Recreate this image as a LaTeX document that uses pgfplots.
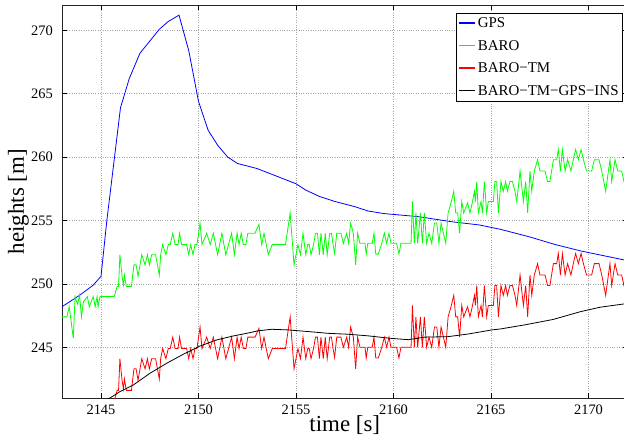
\documentclass[border=0pt]{standalone}
\usepackage{fontspec}
\setmainfont{Liberation Serif}
\usepackage{pgfplots}
\pgfplotsset{compat=1.18}
\begin{document}
\begin{tikzpicture}
\begin{axis}[
  at={(0,0)}, anchor=south west,
  scale only axis,
  width=565.5bp, height=393bp,
  xmin=2143, xmax=2172, ymin=241, ymax=272,
  xtick={2145,2150,2155,2160,2165,2170},
  ytick={245,250,255,260,265,270},
  /pgf/number format/assume math mode=true,
  /pgf/number format/1000 sep={},
  tick align=inside, tick pos=both,
  major tick length=5bp,
  every tick/.style={black, line width=0.6pt},
  axis line style={black!85, line width=0.9pt},
  grid=major,
  major grid style={dotted, gray!70, line width=0.6pt},
  ticklabel style={font=\fontsize{14.5}{16}\selectfont},
  yticklabel style={inner sep=0pt, anchor=east, xshift=-9bp},
  xticklabel style={inner sep=0pt, anchor=north, yshift=-7bp},
  xlabel={time [s]},
  ylabel={heights [m]},
  label style={font=\fontsize{23}{26}\selectfont, inner sep=0pt},
  xlabel style={at={(axis description cs:0.5,-0.0855)}, anchor=base},
  ylabel style={at={(axis description cs:-0.0584,0.5)}, anchor=south},
  legend style={at={(0.992,0.98)}, anchor=north east, draw=black, line width=0.8pt, fill=white,
    font=\fontsize{15}{17}\selectfont, row sep=7.2bp, inner xsep=2bp, inner ysep=2.5bp},
  legend cell align=left,
  legend image code/.code={\draw[#1, line width=1.4pt] (0bp,0.5bp) -- (16bp,0.5bp);},
  every axis plot/.append style={line width=0.8pt},
]
\addplot[color=blue] coordinates {
(2143.0,248.2) (2143.9,249.1) (2144.6,249.9) (2145.0,250.6) (2145.3,255.0)
(2146.0,263.9) (2146.45,266.2) (2147.0,268.2) (2148.0,270.1) (2148.45,270.7)
(2149.0,271.2) (2149.5,268.4) (2150.0,264.4) (2150.5,262.1) (2151.0,260.9)
(2151.5,260.0) (2152.0,259.5) (2153.0,259.1) (2154.0,258.5) (2155.0,257.9)
(2155.5,257.4) (2156.2,256.9) (2157.0,256.5) (2158.0,256.1) (2158.7,255.75)
(2159.5,255.55) (2161.3,255.3) (2163.0,254.9) (2164.4,254.65) (2165.5,254.3)
(2167.0,253.7) (2168.3,253.1) (2169.6,252.6) (2171.8,251.9) (2172.0,251.85)
};
\addlegendentry{GPS}
\addplot[color=green] coordinates {
(2143.00,247.4) (2143.25,247.4) (2143.37,248.2) (2143.58,245.7) (2143.67,249.0)
(2143.80,248.4) (2143.90,249.1) (2144.00,247.4) (2144.10,248.6) (2144.30,249.0)
(2144.40,248.2) (2144.60,249.0) (2144.70,248.2) (2144.80,249.0) (2144.85,248.2)
(2144.95,249.0) (2145.68,249.0) (2145.83,249.8) (2145.90,249.8) (2145.97,252.3)
(2146.08,250.6) (2146.15,249.9) (2146.20,250.7) (2146.30,249.8) (2146.56,249.8)
(2146.69,251.5) (2146.80,251.5) (2146.90,250.6) (2147.09,252.3) (2147.26,251.5)
(2147.38,252.3) (2147.48,251.5) (2147.60,252.3) (2147.80,252.3) (2147.99,250.7)
(2148.06,252.3) (2148.16,253.1) (2148.33,252.3) (2148.45,253.1) (2148.55,253.1)
(2148.68,254.0) (2148.80,253.1) (2148.95,253.1) (2149.03,254.0) (2149.13,253.1)
(2149.39,253.1) (2149.50,252.3) (2149.60,253.1) (2149.72,252.3) (2149.82,253.1)
(2149.92,253.1) (2150.08,254.8) (2150.18,253.1) (2150.42,254.0) (2150.60,253.1)
(2150.76,254.0) (2150.98,252.3) (2151.20,254.0) (2151.40,252.3) (2151.54,253.1)
(2151.70,254.0) (2151.84,252.3) (2151.98,254.0) (2152.08,253.1) (2152.19,254.0)
(2152.30,253.1) (2152.43,253.1) (2152.53,254.0) (2152.90,254.0) (2153.10,254.7)
(2153.24,253.1) (2153.36,254.0) (2153.58,252.3) (2153.78,253.1) (2154.46,253.1)
(2154.70,255.6) (2154.90,251.5) (2155.10,253.1) (2155.23,252.3) (2155.36,254.0)
(2155.50,252.3) (2155.60,253.1) (2155.68,253.1) (2155.77,252.3) (2155.90,253.1)
(2156.00,254.0) (2156.10,254.0) (2156.20,252.3) (2156.28,254.0) (2156.40,252.3)
(2156.50,254.0) (2156.60,252.3) (2156.73,254.0) (2156.82,254.0) (2156.90,253.1)
(2156.98,252.4) (2157.09,254.0) (2157.30,254.0) (2157.43,253.2) (2157.60,254.0)
(2157.70,253.2) (2157.80,254.8) (2157.94,254.0) (2158.06,251.5) (2158.16,254.0)
(2158.28,253.2) (2158.54,253.2) (2158.60,252.35) (2158.68,253.2) (2158.91,253.2)
(2159.00,254.0) (2159.09,252.35) (2159.22,252.35) (2159.40,253.2) (2159.53,254.0)
(2159.65,253.2) (2159.77,254.0) (2159.87,253.2) (2160.16,253.2) (2160.28,252.35)
(2160.38,253.2) (2160.90,253.2) (2160.97,256.5) (2161.07,253.2) (2161.15,255.6)
(2161.24,253.2) (2161.38,255.6) (2161.48,253.2) (2161.58,255.6) (2161.70,253.2)
(2161.82,254.0) (2161.96,253.2) (2162.10,254.8) (2162.22,254.8) (2162.33,253.2)
(2162.44,254.8) (2162.56,254.0) (2162.68,253.2) (2162.80,255.6) (2162.95,256.4)
(2163.09,257.3) (2163.19,255.6) (2163.29,255.6) (2163.39,254.0) (2163.50,256.5)
(2163.60,255.6) (2163.80,256.4) (2163.92,255.6) (2164.04,256.4) (2164.15,257.3)
(2164.20,256.5) (2164.27,258.07) (2164.35,255.6) (2164.49,256.5) (2164.56,255.6)
(2164.66,258.07) (2164.78,255.6) (2164.86,256.5) (2165.12,256.5) (2165.20,258.07)
(2165.29,258.07) (2165.38,255.6) (2165.51,258.07) (2165.63,257.3) (2165.75,258.07)
(2165.84,257.3) (2165.97,258.07) (2166.10,258.07) (2166.23,257.3) (2166.32,256.5)
(2166.49,258.9) (2166.66,256.5) (2166.78,258.07) (2166.88,255.6) (2167.00,258.9)
(2167.09,257.3) (2167.22,258.9) (2167.39,259.8) (2167.51,258.9) (2167.77,258.9)
(2167.90,258.07) (2168.02,258.07) (2168.20,259.8) (2168.37,259.8) (2168.45,260.6)
(2168.56,258.9) (2168.66,260.6) (2168.80,258.9) (2168.93,259.8) (2169.10,258.9)
(2169.22,259.8) (2169.34,260.6) (2169.48,259.8) (2169.62,260.6) (2169.74,259.8)
(2169.90,258.9) (2170.16,258.9) (2170.30,259.8) (2170.54,259.8) (2170.68,258.9)
(2170.88,257.3) (2171.02,258.9) (2171.10,259.8) (2171.19,258.07) (2171.36,259.8)
(2171.50,258.9) (2171.70,258.9) (2171.82,258.07) (2172.00,259.0)
};
\addlegendentry{BARO}
\addplot[color=red] coordinates {
(2145.50,240.8) (2145.68,240.8) (2145.83,241.6) (2145.90,241.6) (2145.97,244.1)
(2146.08,242.4) (2146.15,241.7) (2146.20,242.5) (2146.30,241.6) (2146.56,241.6)
(2146.69,243.3) (2146.80,243.3) (2146.90,242.4) (2147.09,244.1) (2147.26,243.3)
(2147.38,244.1) (2147.48,243.3) (2147.60,244.1) (2147.80,244.1) (2147.99,242.5)
(2148.06,244.1) (2148.16,244.9) (2148.33,244.1) (2148.45,244.9) (2148.55,244.9)
(2148.68,245.8) (2148.80,244.9) (2148.95,244.9) (2149.03,245.8) (2149.13,244.9)
(2149.39,244.9) (2149.50,244.1) (2149.60,244.9) (2149.72,244.1) (2149.82,244.9)
(2149.92,244.9) (2150.08,246.6) (2150.18,244.9) (2150.42,245.8) (2150.60,244.9)
(2150.76,245.8) (2150.98,244.1) (2151.20,245.8) (2151.40,244.1) (2151.54,244.9)
(2151.70,245.8) (2151.84,244.1) (2151.98,245.8) (2152.08,244.9) (2152.19,245.8)
(2152.30,244.9) (2152.43,244.9) (2152.53,245.8) (2152.90,245.8) (2153.10,246.5)
(2153.24,244.9) (2153.36,245.8) (2153.58,244.1) (2153.78,244.9) (2154.46,244.9)
(2154.70,247.4) (2154.90,243.3) (2155.10,244.9) (2155.23,244.1) (2155.36,245.8)
(2155.50,244.1) (2155.60,244.9) (2155.68,244.9) (2155.77,244.1) (2155.90,244.9)
(2156.00,245.8) (2156.10,245.8) (2156.20,244.1) (2156.28,245.8) (2156.40,244.1)
(2156.50,245.8) (2156.60,244.1) (2156.73,245.8) (2156.82,245.8) (2156.90,244.9)
(2156.98,244.2) (2157.09,245.8) (2157.30,245.8) (2157.43,245.0) (2157.60,245.8)
(2157.70,245.0) (2157.80,246.6) (2157.94,245.8) (2158.06,243.3) (2158.16,245.8)
(2158.28,245.0) (2158.54,245.0) (2158.60,244.15) (2158.68,245.0) (2158.91,245.0)
(2159.00,245.8) (2159.09,244.15) (2159.22,244.15) (2159.40,245.0) (2159.53,245.8)
(2159.65,245.0) (2159.77,245.8) (2159.87,245.0) (2160.16,245.0) (2160.28,244.15)
(2160.38,245.0) (2160.90,245.0) (2160.97,248.3) (2161.07,245.0) (2161.15,247.4)
(2161.24,245.0) (2161.38,247.4) (2161.48,245.0) (2161.58,247.4) (2161.70,245.0)
(2161.82,245.8) (2161.96,245.0) (2162.10,246.6) (2162.22,246.6) (2162.33,245.0)
(2162.44,246.6) (2162.56,245.8) (2162.68,245.0) (2162.80,247.4) (2162.95,248.2)
(2163.09,249.1) (2163.19,247.4) (2163.29,247.4) (2163.39,245.8) (2163.50,248.3)
(2163.60,247.4) (2163.80,248.2) (2163.92,247.4) (2164.04,248.2) (2164.15,249.1)
(2164.20,248.3) (2164.27,249.87) (2164.35,247.4) (2164.49,248.3) (2164.56,247.4)
(2164.66,249.87) (2164.78,247.4) (2164.86,248.3) (2165.12,248.3) (2165.20,249.87)
(2165.29,249.87) (2165.38,247.4) (2165.51,249.87) (2165.63,249.1) (2165.75,249.87)
(2165.84,249.1) (2165.97,249.87) (2166.10,249.87) (2166.23,249.1) (2166.32,248.3)
(2166.49,250.7) (2166.66,248.3) (2166.78,249.87) (2166.88,247.4) (2167.00,250.7)
(2167.09,249.1) (2167.22,250.7) (2167.39,251.6) (2167.51,250.7) (2167.77,250.7)
(2167.90,249.87) (2168.02,249.87) (2168.20,251.6) (2168.37,251.6) (2168.45,252.4)
(2168.56,250.7) (2168.66,252.4) (2168.80,250.7) (2168.93,251.6) (2169.10,250.7)
(2169.22,251.6) (2169.34,252.4) (2169.48,251.6) (2169.62,252.4) (2169.74,251.6)
(2169.90,250.7) (2170.16,250.7) (2170.30,251.6) (2170.54,251.6) (2170.68,250.7)
(2170.88,249.1) (2171.02,250.7) (2171.10,251.6) (2171.19,249.87) (2171.36,251.6)
(2171.50,250.7) (2171.70,250.7) (2171.82,249.87) (2172.00,250.8)
};
\addlegendentry{BARO−TM}
\addplot[color=black] coordinates {
(2145.30,240.9) (2145.46,241.0) (2145.97,241.5) (2146.66,242.03) (2147.51,242.95)
(2148.37,243.74) (2149.22,244.45) (2150.08,245.1) (2150.93,245.58) (2151.80,245.9)
(2152.40,246.08) (2153.07,246.3) (2153.75,246.42) (2154.60,246.37) (2155.63,246.24)
(2156.66,246.1) (2157.68,246.03) (2158.71,245.9) (2159.30,245.8) (2159.90,245.7)
(2160.76,245.6) (2161.60,245.8) (2162.80,245.84) (2163.84,246.05) (2165.04,246.37)
(2165.50,246.45) (2166.70,246.76) (2168.20,247.2) (2169.56,247.8) (2170.59,248.16)
(2171.82,248.42) (2172.00,248.45)
};
\addlegendentry{BARO−TM−GPS−INS}
\end{axis}
\pgfresetboundingbox
\path[use as bounding box] (-62bp,-45bp) rectangle (562bp,398bp);
\end{tikzpicture}
\end{document}
